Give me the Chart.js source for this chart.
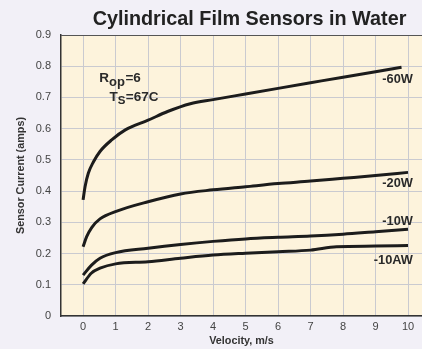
<!DOCTYPE html>
<html>
<head>
<meta charset="utf-8">
<script src="https://cdn.jsdelivr.net/npm/chart.js@4.4.1/dist/chart.umd.min.js"></script>
<style>
  html, body { margin: 0; padding: 0; background: #f2f0f7; }
  #wrap { width: 422px; height: 349px; }
</style>
</head>
<body>
<div id="wrap"><canvas id="c" width="422" height="349"></canvas></div>
<script>
// Sensor current (amps) against water velocity (m/s) for each heater power
const seriesNames = ['-60W', '-20W', '-10W', '-10AW'];

const velocity60W = [0, 0.06, 0.16, 0.32, 0.52, 0.88, 1.3, 2, 2.6, 3.3, 4, 5, 6, 7, 8, 9, 9.8];
const current60W  = [0.372, 0.414, 0.457, 0.494, 0.527, 0.564, 0.596, 0.627, 0.655, 0.68, 0.693, 0.711, 0.729, 0.747, 0.765, 0.782, 0.797];

const velocity20W = [0, 0.11, 0.27, 0.52, 1.04, 2, 3, 4, 5, 6, 7, 8, 9, 10];
const current20W  = [0.222, 0.254, 0.284, 0.311, 0.336, 0.366, 0.391, 0.404, 0.414, 0.424, 0.432, 0.441, 0.45, 0.46];

const velocity10W = [0, 0.26, 0.52, 1, 2, 3, 4, 5, 6, 7, 8, 9, 10];
const current10W  = [0.131, 0.163, 0.185, 0.203, 0.217, 0.229, 0.239, 0.247, 0.252, 0.256, 0.262, 0.27, 0.278];

const velocity10AW = [0, 0.25, 0.52, 1, 2, 3, 4, 5, 6, 7, 7.8, 9, 10];
const current10AW  = [0.103, 0.137, 0.153, 0.167, 0.174, 0.185, 0.195, 0.201, 0.206, 0.211, 0.222, 0.224, 0.226];

const xTickValues = [0, 1, 2, 3, 4, 5, 6, 7, 8, 9, 10];
const yTickValues = [0, 0.1, 0.2, 0.3, 0.4, 0.5, 0.6, 0.7, 0.8, 0.9];

const FONT = "'Liberation Sans', Arial, Helvetica, sans-serif";
Chart.defaults.font.family = FONT;

function pairs(xs, ys) { return xs.map((x, i) => ({ x: x, y: ys[i] })); }

const seriesData = [
  pairs(velocity60W, current60W),
  pairs(velocity20W, current20W),
  pairs(velocity10W, current10W),
  pairs(velocity10AW, current10AW)
];

// Where each curve's name sits (data units, right-aligned)
const curveLabelSpots = [
  { x: 10.15, y: 0.746 },
  { x: 10.15, y: 0.414 },
  { x: 10.15, y: 0.291 },
  { x: 10.15, y: 0.166 }
];

const paperPlugin = {
  id: 'paper',
  beforeDraw(chart) {
    const { ctx, chartArea: a } = chart;
    ctx.save();
    ctx.fillStyle = '#fdf3dc';
    ctx.fillRect(a.left, a.top, a.right - a.left, a.bottom - a.top);
    ctx.restore();
  },
  afterDraw(chart) {
    const { ctx, chartArea: a, scales } = chart;
    ctx.save();
    // frame along the top edge
    ctx.strokeStyle = '#555';
    ctx.lineWidth = 1;
    ctx.beginPath();
    ctx.moveTo(a.left, a.top + 0.5);
    ctx.lineTo(a.right, a.top + 0.5);
    ctx.stroke();

    // title
    ctx.fillStyle = '#222';
    ctx.font = 'bold 19.8px ' + FONT;
    ctx.textAlign = 'center';
    ctx.textBaseline = 'alphabetic';
    ctx.fillText('Cylindrical Film Sensors in Water', 249.5, 25);

    // curve names
    ctx.fillStyle = '#2a2a2a';
    ctx.font = 'bold 12.8px ' + FONT;
    ctx.textAlign = 'right';
    seriesNames.forEach((name, i) => {
      const p = curveLabelSpots[i];
      ctx.fillText(name, scales.x.getPixelForValue(p.x), scales.y.getPixelForValue(p.y));
    });

    // operating conditions with subscripts
    const drawRuns = (runs, vx, vy) => {
      let px = scales.x.getPixelForValue(vx);
      const py = scales.y.getPixelForValue(vy);
      ctx.textAlign = 'left';
      runs.forEach(r => {
        ctx.font = 'bold ' + r.size + 'px ' + FONT;
        ctx.fillText(r.text, px, py + r.dy);
        px += ctx.measureText(r.text).width + (r.gap || 0);
      });
    };
    drawRuns([{ text: 'R', size: 13.5, dy: 0 }, { text: 'op', size: 13, dy: 4, gap: 0.5 }, { text: '=6', size: 13.5, dy: 0 }], 0.5, 0.75);
    drawRuns([{ text: 'T', size: 13.5, dy: 0 }, { text: 'S', size: 11.5, dy: 3, gap: 0.5 }, { text: '=67C', size: 13.5, dy: 0 }], 0.81, 0.689);
    ctx.restore();
  }
};

const lineStyle = {
  borderColor: '#1c1c1c',
  borderWidth: 3,
  pointRadius: 0,
  fill: false,
  cubicInterpolationMode: 'monotone',
  borderCapStyle: 'butt'
};

new Chart(document.getElementById('c'), {
  type: 'line',
  data: {
    datasets: seriesNames.map((name, i) => Object.assign({ label: name, data: seriesData[i] }, lineStyle))
  },
  options: {
    responsive: false,
    animation: false,
    devicePixelRatio: 1,
    layout: { padding: { top: 35, left: 0, right: 0, bottom: 0 } },
    plugins: { legend: { display: false }, tooltip: { enabled: false }, title: { display: false } },
    scales: {
      x: {
        type: 'linear',
        min: -0.68,
        max: 10.43,
        afterBuildTicks(s) { s.ticks = xTickValues.map(v => ({ value: v })); },
        afterFit(s) { s.height = 33; },
        ticks: { color: '#444', font: { size: 11 }, padding: 4, callback: v => String(v) },
        grid: { color: '#cacad0', lineWidth: 1, drawTicks: false },
        border: { color: '#333', width: 1.5 },
        title: { display: true, text: 'Velocity, m/s', color: '#333', font: { size: 10.8, weight: 'bold' }, padding: { top: 0, bottom: 1 } }
      },
      y: {
        type: 'linear',
        min: 0,
        max: 0.9,
        afterBuildTicks(s) { s.ticks = yTickValues.map(v => ({ value: v })); },
        afterFit(s) { s.width = 61; },
        ticks: { color: '#444', font: { size: 11 }, padding: 10, callback: v => (v === 0 ? '0' : v.toFixed(1)) },
        grid: { color: '#cacad0', lineWidth: 1, drawTicks: false },
        border: { color: '#333', width: 1.5 },
        title: { display: true, text: 'Sensor Current (amps)', color: '#333', font: { size: 10.8, weight: 'bold' }, padding: { top: 15, bottom: 0 } }
      }
    }
  },
  plugins: [paperPlugin]
});
</script>
</body>
</html>
